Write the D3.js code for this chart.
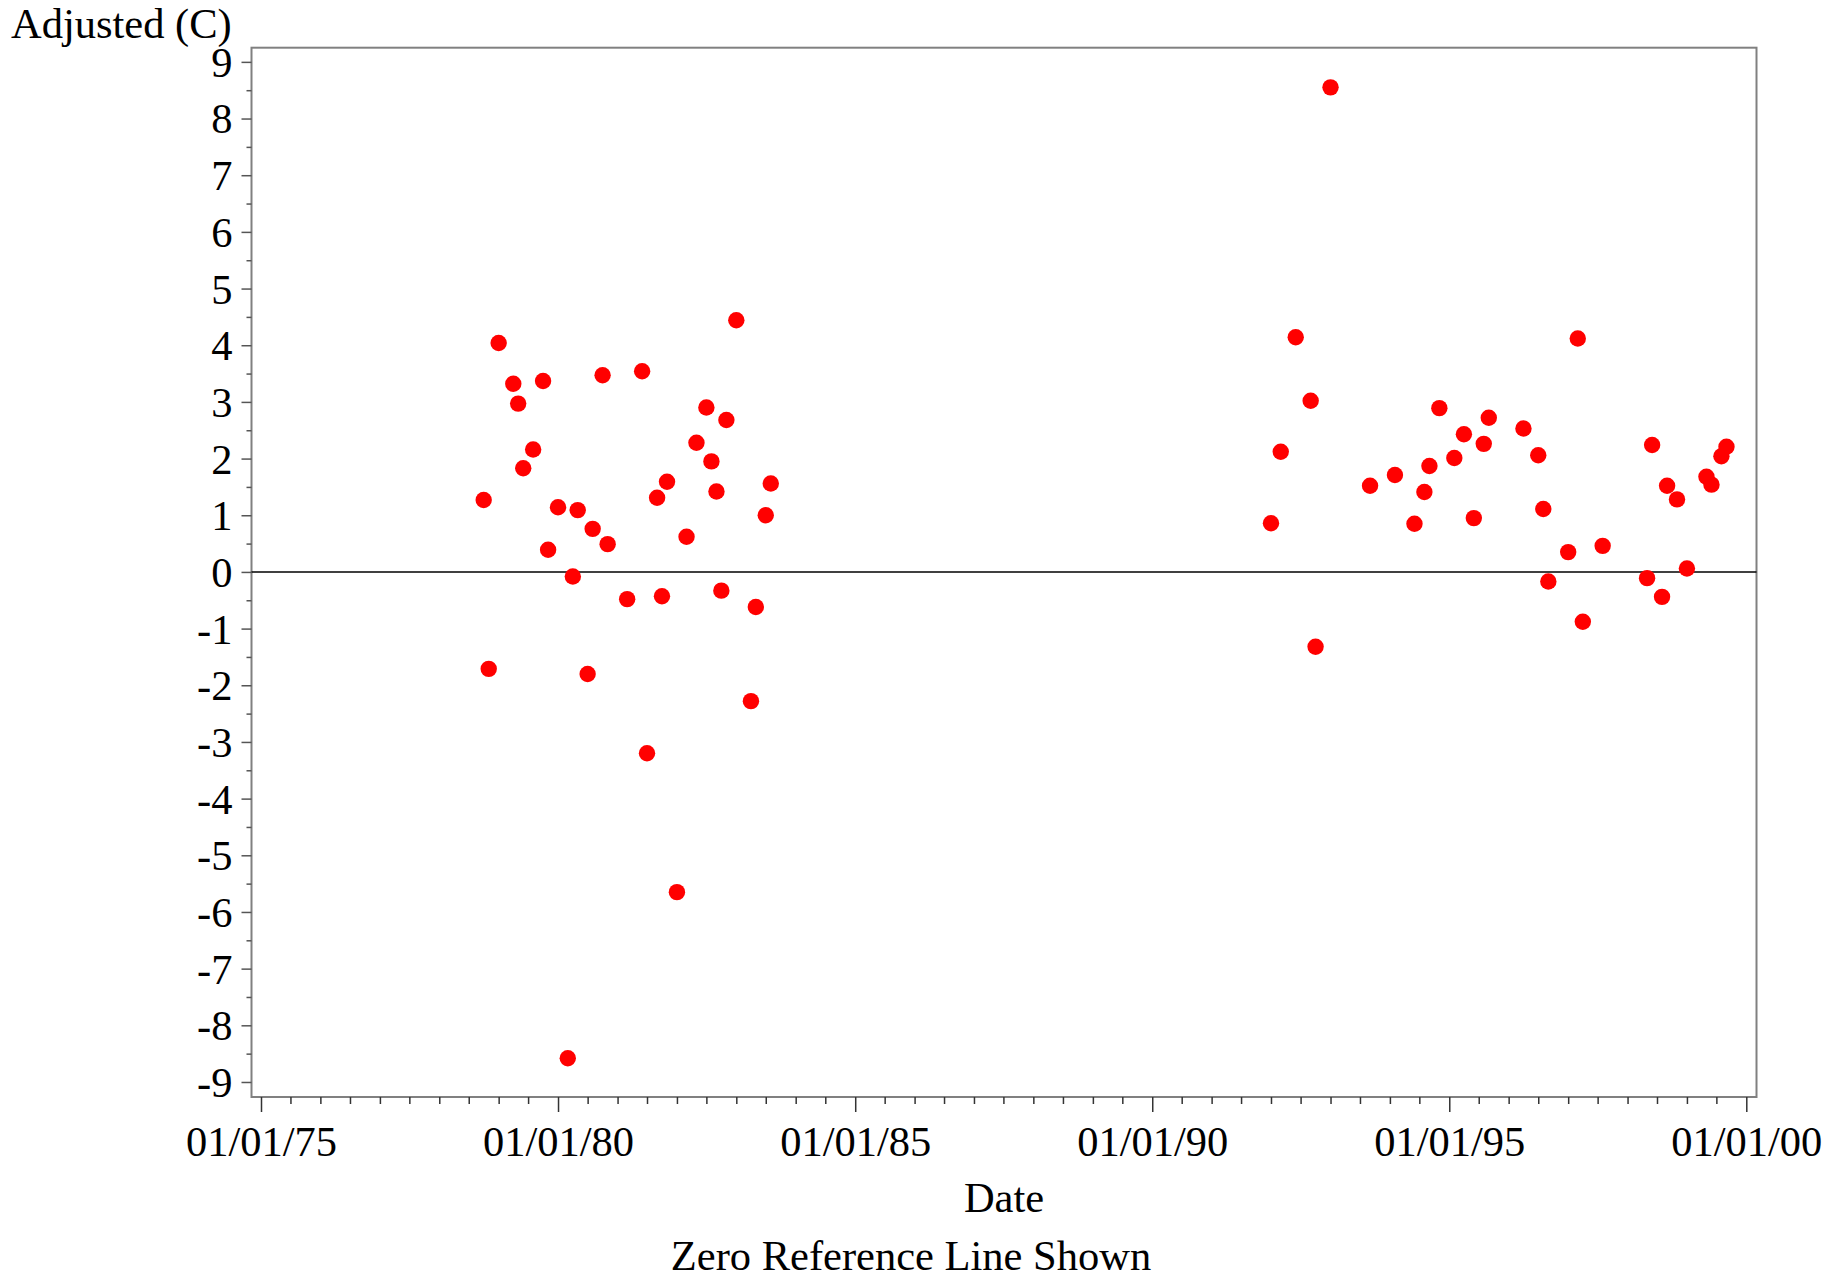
<!DOCTYPE html>
<html>
<head>
<meta charset="utf-8">
<script src="https://cdn.jsdelivr.net/npm/d3@7"></script>
<style>
  html, body { margin: 0; padding: 0; background: #fff; }
  svg { display: block; }
  text { font-family: "Liberation Serif", "Times New Roman", serif; fill: #000; }
</style>
</head>
<body>
<svg id="chart" width="1843" height="1278"></svg>
<script>
// ---- Data ----
const dates1 = ["1978-10","1978-11","1979-01","1979-04","1979-05","1979-06","1979-08","1979-10","1979-11",
  "1980-01","1980-03","1980-04","1980-05","1980-07","1980-08","1980-10","1980-11",
  "1981-03","1981-06","1981-07","1981-09","1981-10","1981-11",
  "1982-01","1982-03","1982-05","1982-07","1982-08","1982-09","1982-10","1982-11",
  "1983-01","1983-04","1983-05","1983-07","1983-08"];
const values1 = [1.27,-1.71,4.04,3.32,2.97,1.83,2.16,3.37,0.39,
  1.14,-8.58,-0.08,1.09,-1.80,0.76,3.47,0.49,
  -0.48,3.54,-3.20,1.31,-0.43,1.59,
  -5.65,0.62,2.28,2.90,1.95,1.42,-0.33,2.68,
  4.44,-2.28,-0.62,1.00,1.56];
const dates2 = ["1992-01","1992-03","1992-06","1992-09","1992-10","1993-01","1993-09",
  "1994-02","1994-06","1994-08","1994-09","1994-11",
  "1995-02","1995-04","1995-06","1995-08","1995-09",
  "1996-04","1996-07","1996-08","1996-09",
  "1997-01","1997-03","1997-04","1997-08",
  "1998-05","1998-06","1998-08","1998-09","1998-11",
  "1999-01","1999-05","1999-06","1999-08","1999-09"];
const values2 = [0.86,2.12,4.14,3.02,-1.32,8.55,1.52,
  1.71,0.85,1.41,1.87,2.89,
  2.01,2.43,0.95,2.26,2.72,
  2.53,2.06,1.11,-0.17,
  0.35,4.12,-0.88,0.46,
  -0.11,2.24,-0.44,1.52,1.28,
  0.06,1.68,1.54,2.04,2.21];
const majorYears = [1975, 1980, 1985, 1990, 1995, 2000];
const yTickValues = [-9,-8,-7,-6,-5,-4,-3,-2,-1,0,1,2,3,4,5,6,7,8,9];
const yLabel = "Adjusted (C)";
const xLabel = "Date";
const footnote = "Zero Reference Line Shown";

// ---- Layout ----
const FONT = '"Liberation Serif", "Times New Roman", serif';
const FS = 42.5;
const frame = { left: 251.5, right: 1756.5, top: 47.7, bottom: 1097 };
const parse = d3.timeParse("%Y-%m");
const points = dates1.map((d, i) => ({ date: parse(d), value: values1[i] }))
  .concat(dates2.map((d, i) => ({ date: parse(d), value: values2[i] })));

const x = d3.scaleTime()
  .domain([new Date(1975, 0, 1), new Date(2000, 0, 1)])
  .range([261, 1746.3]);
const y = d3.scaleLinear()
  .domain([-9.265, 9.25])
  .range([frame.bottom, frame.top]);

const svg = d3.select("#chart");

// frame
svg.append("rect")
  .attr("x", frame.left).attr("y", frame.top)
  .attr("width", frame.right - frame.left)
  .attr("height", frame.bottom - frame.top)
  .attr("fill", "none").attr("stroke", "#808080").attr("stroke-width", 2);

// zero reference line
svg.append("line")
  .attr("x1", frame.left).attr("x2", frame.right)
  .attr("y1", y(0)).attr("y2", y(0))
  .attr("stroke", "#000").attr("stroke-width", 1.5);

// y axis
const yMinor = d3.range(-9, 9.01, 0.5).filter(v => !Number.isInteger(v));
const yAxisG = svg.append("g").attr("transform", `translate(${frame.left},0)`);
yAxisG.append("g")
  .call(d3.axisLeft(y).tickValues(yMinor).tickSize(5).tickFormat(""))
  .call(g => g.select(".domain").remove())
  .call(g => g.selectAll("line").attr("stroke", "#555").attr("stroke-width", 1.5));
yAxisG.append("g")
  .call(d3.axisLeft(y).tickValues(yTickValues).tickSize(10).tickPadding(9).tickFormat(d => String(d)))
  .call(g => g.select(".domain").remove())
  .call(g => g.selectAll("line").attr("stroke", "#555").attr("stroke-width", 1.5))
  .call(g => g.selectAll("text")
    .attr("font-family", FONT)
    .attr("font-size", FS).attr("fill", "#000").attr("dy", "0.34em"));

// x axis
const xMinor = d3.timeMonth.every(6).range(new Date(1975, 0, 1), new Date(2000, 0, 2))
  .filter(d => !(d.getMonth() === 0 && d.getFullYear() % 5 === 0));
const xMajor = majorYears.map(yr => new Date(yr, 0, 1));
const fmt = d3.timeFormat("%m/%d/%y");
const xAxisG = svg.append("g").attr("transform", `translate(0,${frame.bottom})`);
xAxisG.append("g")
  .call(d3.axisBottom(x).tickValues(xMinor).tickSize(7).tickFormat(""))
  .call(g => g.select(".domain").remove())
  .call(g => g.selectAll("line").attr("stroke", "#333").attr("stroke-width", 1.5));
xAxisG.append("g")
  .call(d3.axisBottom(x).tickValues(xMajor).tickSize(15).tickPadding(14).tickFormat(fmt))
  .call(g => g.select(".domain").remove())
  .call(g => g.selectAll("line").attr("stroke", "#333").attr("stroke-width", 1.5))
  .call(g => g.selectAll("text")
    .attr("font-family", FONT)
    .attr("font-size", FS).attr("fill", "#000").attr("dy", "0.71em"));

// points
svg.append("g").selectAll("circle")
  .data(points)
  .join("circle")
  .attr("cx", d => x(d.date))
  .attr("cy", d => y(d.value))
  .attr("r", 8.2)
  .attr("fill", "#ff0000");

// labels
svg.append("text").attr("x", 11).attr("y", 37.5)
  .attr("font-size", FS).text(yLabel);
svg.append("text").attr("x", (frame.left + frame.right) / 2).attr("y", 1211.5)
  .attr("text-anchor", "middle").attr("font-size", FS).text(xLabel);
svg.append("text").attr("x", 911).attr("y", 1269.5)
  .attr("text-anchor", "middle").attr("font-size", FS).text(footnote);
</script>
</body>
</html>
